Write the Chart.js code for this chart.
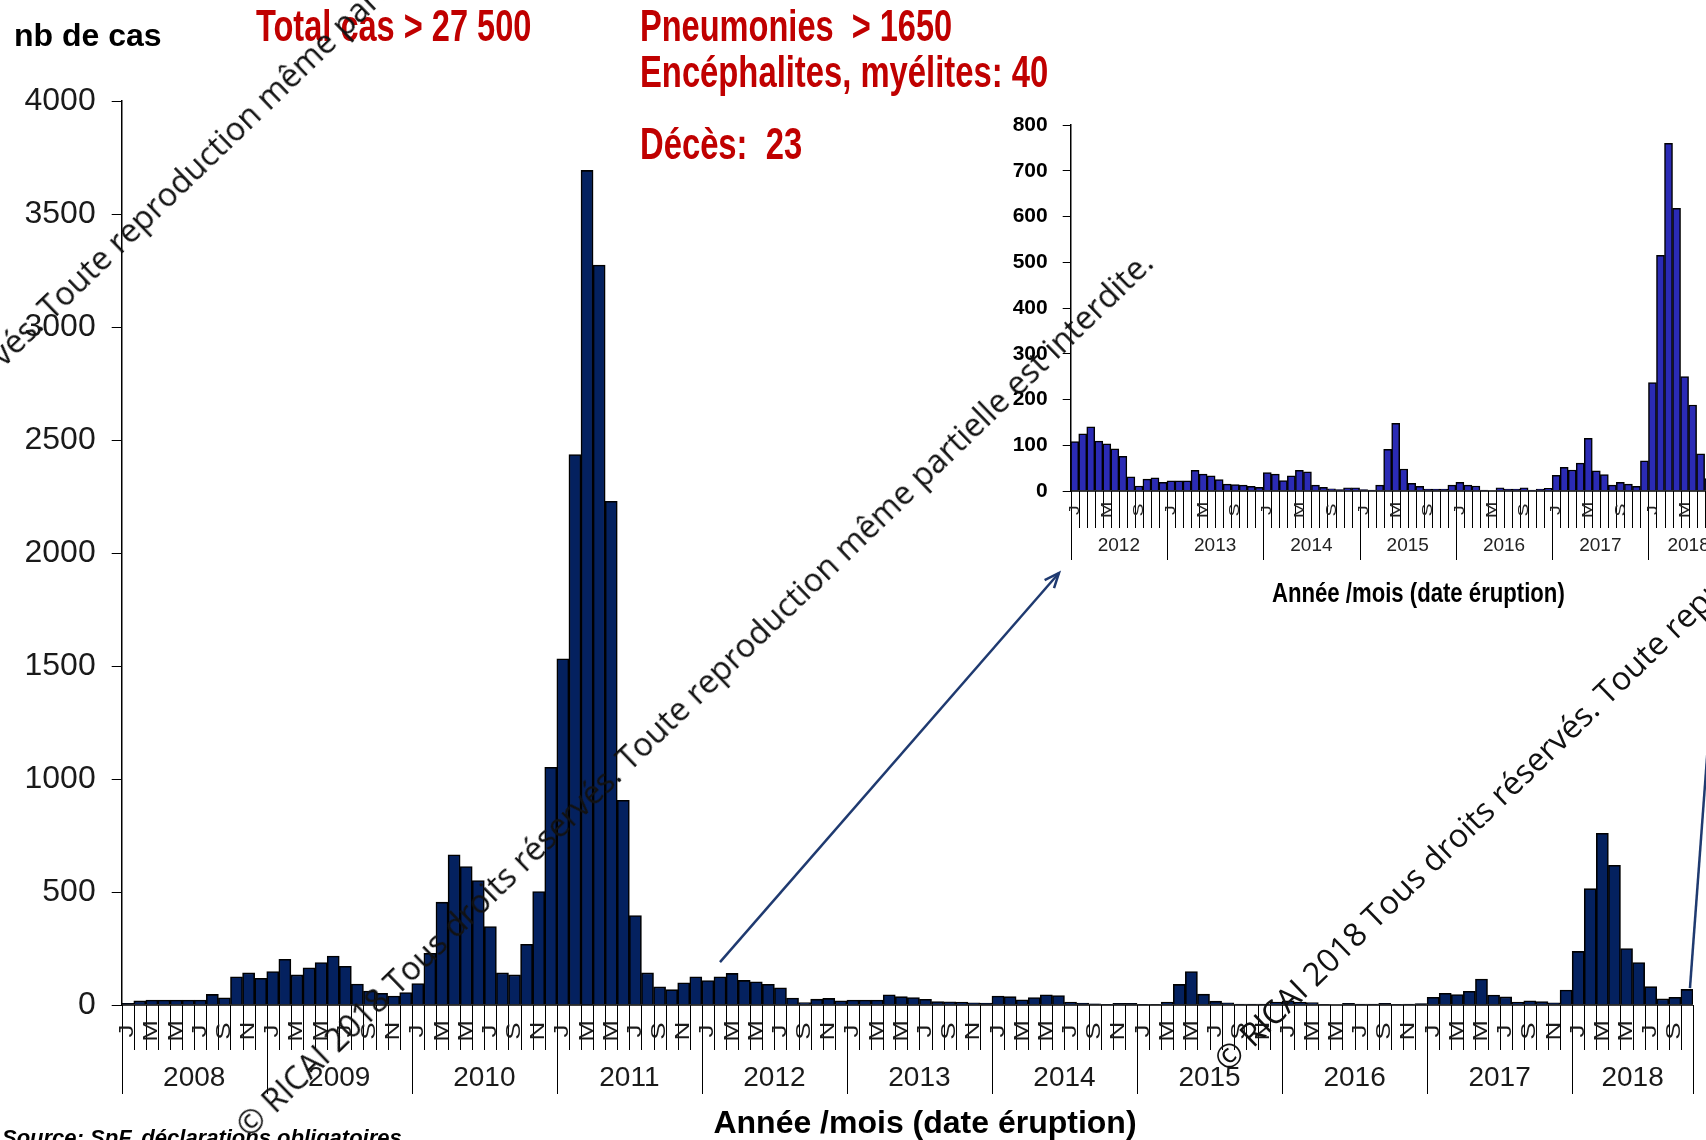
<!DOCTYPE html>
<html lang="fr">
<head>
<meta charset="utf-8">
<title>Rougeole - nb de cas par mois 2008-2018</title>
<script src="https://cdn.jsdelivr.net/npm/chart.js@4.4.1/dist/chart.umd.min.js"></script>
<style>
  html, body { margin: 0; padding: 0; background: #fff; }
  body { width: 1706px; height: 1140px; overflow: hidden; position: relative; font-family: "Liberation Sans", Arial, sans-serif; }
  canvas { position: absolute; }
  #main { left: 0; top: 0; }
  #inset { left: 960px; top: 90px; }
  .t { position: absolute; white-space: pre; line-height: 1; transform-origin: 0 0; }
  .b { font-weight: bold; }
  .i { font-style: italic; }
  .red { color: #c00000; font-weight: bold; }
  .wm { position: absolute; white-space: pre; line-height: 1; font-family: "Open Sans", sans-serif; color: #111; pointer-events: none; }
</style>
</head>
<body>
<canvas id="main" width="1706" height="1140"></canvas>
<canvas id="inset" width="800" height="540"></canvas>

<script>
// cas mensuels (date d'eruption)
const cas2008 = [7, 18, 22, 22, 22, 22, 22, 47, 32, 125, 142, 118];
const cas2009 = [148, 202, 133, 165, 188, 217, 171, 93, 62, 52, 40, 55];
const cas2010 = [95, 229, 455, 665, 613, 551, 347, 142, 133, 269, 502, 1052];
const cas2011 = [1532, 2436, 3693, 3274, 2229, 906, 396, 142, 80, 68, 98, 125];
const cas2012 = [108, 125, 140, 109, 103, 92, 76, 31, 11, 26, 29, 19];
const cas2013 = [22, 22, 22, 45, 37, 33, 25, 15, 14, 13, 10, 8];
const cas2014 = [40, 37, 23, 33, 45, 42, 13, 8, 5, 3, 7, 7];
const cas2015 = [3, 2, 13, 91, 148, 48, 17, 10, 4, 4, 4, 13];
const cas2016 = [19, 13, 11, 2, 0, 7, 4, 4, 7, 2, 4, 6];
const cas2017 = [34, 52, 46, 61, 115, 44, 36, 13, 19, 15, 10, 66];
const cas2018 = [237, 515, 760, 618, 250, 188, 81, 27, 34, 69];

const annees = ['2008', '2009', '2010', '2011', '2012', '2013', '2014', '2015', '2016', '2017', '2018'];
const lettresMois = ['J', 'F', 'M', 'A', 'M', 'J', 'J', 'A', 'S', 'O', 'N', 'D'];
const ticksPrincipal = [0, 500, 1000, 1500, 2000, 2500, 3000, 3500, 4000];
const ticksZoom = [0, 100, 200, 300, 400, 500, 600, 700, 800];
const debutZoom = '2012';

const cas = [].concat(cas2008, cas2009, cas2010, cas2011, cas2012, cas2013,
                      cas2014, cas2015, cas2016, cas2017, cas2018);
const mois = cas.map((v, i) => lettresMois[i % 12]);

const iZoom = annees.indexOf(debutZoom) * 12;
const casZoom = cas.slice(iZoom);
const moisZoom = mois.slice(iZoom);
const anneesZoom = annees.slice(annees.indexOf(debutZoom));

// axe des x dessine a la main: traits mensuels, lettres, annees
function axeMois(cfg) {
    return {
        id: 'axeMois',
        afterDraw(chart) {
            const ctx = chart.ctx;
            const x = chart.scales.x;
            const area = chart.chartArea;
            const n = chart.data.labels.length;
            const w = x.getPixelForValue(1) - x.getPixelForValue(0);
            const x0 = x.getPixelForValue(0) - w / 2;
            const y0 = area.bottom;
            ctx.save();
            ctx.strokeStyle = '#000';
            ctx.lineWidth = cfg.lineWidth;
            ctx.beginPath();
            ctx.moveTo(area.left, y0);
            ctx.lineTo(area.right, y0);
            ctx.stroke();
            ctx.lineWidth = 1;
            for (let i = 0; i <= n; i++) {
                const px = Math.round(x0 + i * w) + 0.5;
                const len = (i % 12 === 0 || i === n) ? cfg.yearTick : cfg.monthTick;
                ctx.beginPath();
                ctx.moveTo(px, y0);
                ctx.lineTo(px, y0 + len);
                ctx.stroke();
            }
            ctx.fillStyle = cfg.color;
            ctx.textAlign = 'center';
            ctx.textBaseline = 'middle';
            ctx.font = cfg.letterFont;
            for (let i = 0; i < n; i++) {
                if (!cfg.letterMonths.includes(i % 12)) continue;
                ctx.save();
                ctx.translate(x.getPixelForValue(i), y0 + cfg.letterY);
                ctx.rotate(-Math.PI / 2);
                ctx.scale(cfg.letterStretch, 1);
                ctx.fillText(chart.data.labels[i], 0, 0);
                ctx.restore();
            }
            ctx.font = cfg.yearFont;
            cfg.years.forEach((yr, k) => {
                const a = k * 12;
                if (a >= n) return;
                const b = Math.min(a + 12, n) - 1;
                const cx = (x.getPixelForValue(a) + x.getPixelForValue(b)) / 2;
                ctx.fillText(yr, cx, y0 + cfg.yearY);
            });
            ctx.restore();
        }
    };
}

function fleche(ctx, xa, ya, xb, yb, tete) {
    ctx.beginPath();
    ctx.moveTo(xa, ya);
    ctx.lineTo(xb, yb);
    ctx.stroke();
    if (!tete) return;
    const ang = Math.atan2(yb - ya, xb - xa);
    ctx.beginPath();
    ctx.moveTo(xb - 16 * Math.cos(ang - 0.4), yb - 16 * Math.sin(ang - 0.4));
    ctx.lineTo(xb, yb);
    ctx.lineTo(xb - 16 * Math.cos(ang + 0.4), yb - 16 * Math.sin(ang + 0.4));
    ctx.stroke();
}

const fleches = {
    id: 'fleches',
    afterDraw(chart) {
        const ctx = chart.ctx;
        const x = chart.scales.x;
        const y = chart.scales.y;
        ctx.save();
        ctx.strokeStyle = '#1f3a70';
        ctx.lineWidth = 2.5;
        fleche(ctx, x.getPixelForValue(iZoom + 1), y.getPixelForValue(190), 1059, 573, true);
        fleche(ctx, x.getPixelForValue(cas.length - 1) + 3, y.getPixelForValue(75), 1712, 690, false);
        ctx.restore();
    }
};

const sansSep = (v) => String(v);

new Chart(document.getElementById('main'), {
    type: 'bar',
    data: {
        labels: mois,
        datasets: [{
            data: cas,
            backgroundColor: '#04215f',
            borderColor: '#000',
            borderWidth: 1.6,
            barPercentage: 1,
            categoryPercentage: 1
        }]
    },
    options: {
        responsive: false,
        animation: false,
        layout: { padding: { top: 101, right: 13, bottom: 135, left: 0 } },
        plugins: { legend: { display: false }, tooltip: { enabled: false } },
        scales: {
            x: { display: false },
            y: {
                min: 0,
                max: 4000,
                afterBuildTicks: (s) => { s.ticks = ticksPrincipal.map(v => ({ value: v })); },
                afterFit: (s) => { s.width = 121.7; },
                ticks: { callback: sansSep, padding: 16, color: '#1a1a1a', font: { family: '"Liberation Sans", Arial', size: 32 } },
                grid: { drawOnChartArea: false, tickLength: 10, color: '#000', lineWidth: 1 },
                border: { color: '#000', width: 1.5 }
            }
        }
    },
    plugins: [axeMois({
        lineWidth: 1.5, monthTick: 45, yearTick: 89, letterY: 26, yearY: 73,
        letterMonths: [0, 2, 4, 6, 8, 10], letterStretch: 1.3,
        letterFont: '20px "Liberation Sans", Arial', yearFont: '28px "Liberation Sans", Arial',
        color: '#1a1a1a', years: annees
    }), fleches]
});

new Chart(document.getElementById('inset'), {
    type: 'bar',
    data: {
        labels: moisZoom,
        datasets: [{
            data: casZoom,
            backgroundColor: '#2b2bb5',
            borderColor: '#000',
            borderWidth: 1.5,
            barPercentage: 1,
            categoryPercentage: 1
        }]
    },
    options: {
        responsive: false,
        animation: false,
        layout: { padding: { top: 35, right: 31.3, bottom: 139, left: 0 } },
        plugins: { legend: { display: false }, tooltip: { enabled: false } },
        scales: {
            x: { display: false },
            y: {
                min: 0,
                max: 800,
                afterBuildTicks: (s) => { s.ticks = ticksZoom.map(v => ({ value: v })); },
                afterFit: (s) => { s.width = 110.7; },
                ticks: { callback: sansSep, padding: 15, color: '#000', font: { family: '"Liberation Sans", Arial', size: 21, weight: 'bold' } },
                grid: { drawOnChartArea: false, tickLength: 8, color: '#000', lineWidth: 1 },
                border: { color: '#000', width: 1.5 }
            }
        }
    },
    plugins: [axeMois({
        lineWidth: 1.5, monthTick: 37, yearTick: 69, letterY: 19, yearY: 55,
        letterMonths: [0, 4, 8], letterStretch: 1.3,
        letterFont: '15px "Liberation Sans", Arial', yearFont: '19px "Liberation Sans", Arial',
        color: '#222', years: anneesZoom
    })]
});

// textes
function texte(str, x, base, size, cls, sx, align) {
    const d = document.createElement('div');
    d.className = 't ' + (cls || '');
    d.textContent = str;
    d.style.fontSize = size + 'px';
    d.style.top = (base - 0.8465 * size) + 'px';
    d.style.left = '0px';
    document.body.appendChild(d);
    const scale = sx || 1;
    let left = x;
    if (align === 'center') left = x - d.getBoundingClientRect().width * scale / 2;
    d.style.left = left + 'px';
    if (scale !== 1) d.style.transform = 'scaleX(' + scale + ')';
    return d;
}

texte('nb de cas', 14, 46, 32, 'b');
texte('Total cas > 27 500', 256, 41, 44, 'red', 0.74);
texte('Pneumonies  > 1650', 640, 41, 44, 'red', 0.74);
texte('Encéphalites, myélites: 40', 640, 87, 44, 'red', 0.745);
texte('Décès:  23', 640, 159, 44, 'red', 0.745);
texte('Année /mois (date éruption)', 925, 1133, 32, 'b', 1, 'center');
texte('Année /mois (date éruption)', 1418, 603, 27, 'b', 0.82, 'center');
texte('Source: SpF, déclarations obligatoires', 2, 1146, 22, 'b i');

// filigranes
const filigrane = '© RICAI 2018 Tous droits réservés. Toute reproduction même partielle est interdite.';
const mes = document.createElement('canvas').getContext('2d');
mes.font = '29px "Open Sans"';
const angle = Math.atan2(874, 906);
const fsWm = 29 * 1259 / mes.measureText(filigrane).width;
mes.font = fsWm + 'px "Open Sans"';

function poseFiligrane(ancre, ax, ay) {
    const pre = mes.measureText(filigrane.slice(0, filigrane.indexOf(ancre))).width;
    const sx = ax - pre * Math.cos(angle);
    const sy = ay + pre * Math.sin(angle);
    const d = document.createElement('div');
    d.className = 'wm';
    d.textContent = filigrane;
    d.style.fontSize = fsWm + 'px';
    d.style.left = sx + 'px';
    d.style.top = (sy - 0.888 * fsWm) + 'px';
    d.style.transformOrigin = '0 ' + (0.888 * fsWm) + 'px';
    d.style.transform = 'rotate(' + (-angle) + 'rad)';
    document.body.appendChild(d);
}
poseFiligrane('©', 250, 1140);
poseFiligrane('Toute', 52, 322);
poseFiligrane('©', 1228, 1074);
</script>
</body>
</html>
